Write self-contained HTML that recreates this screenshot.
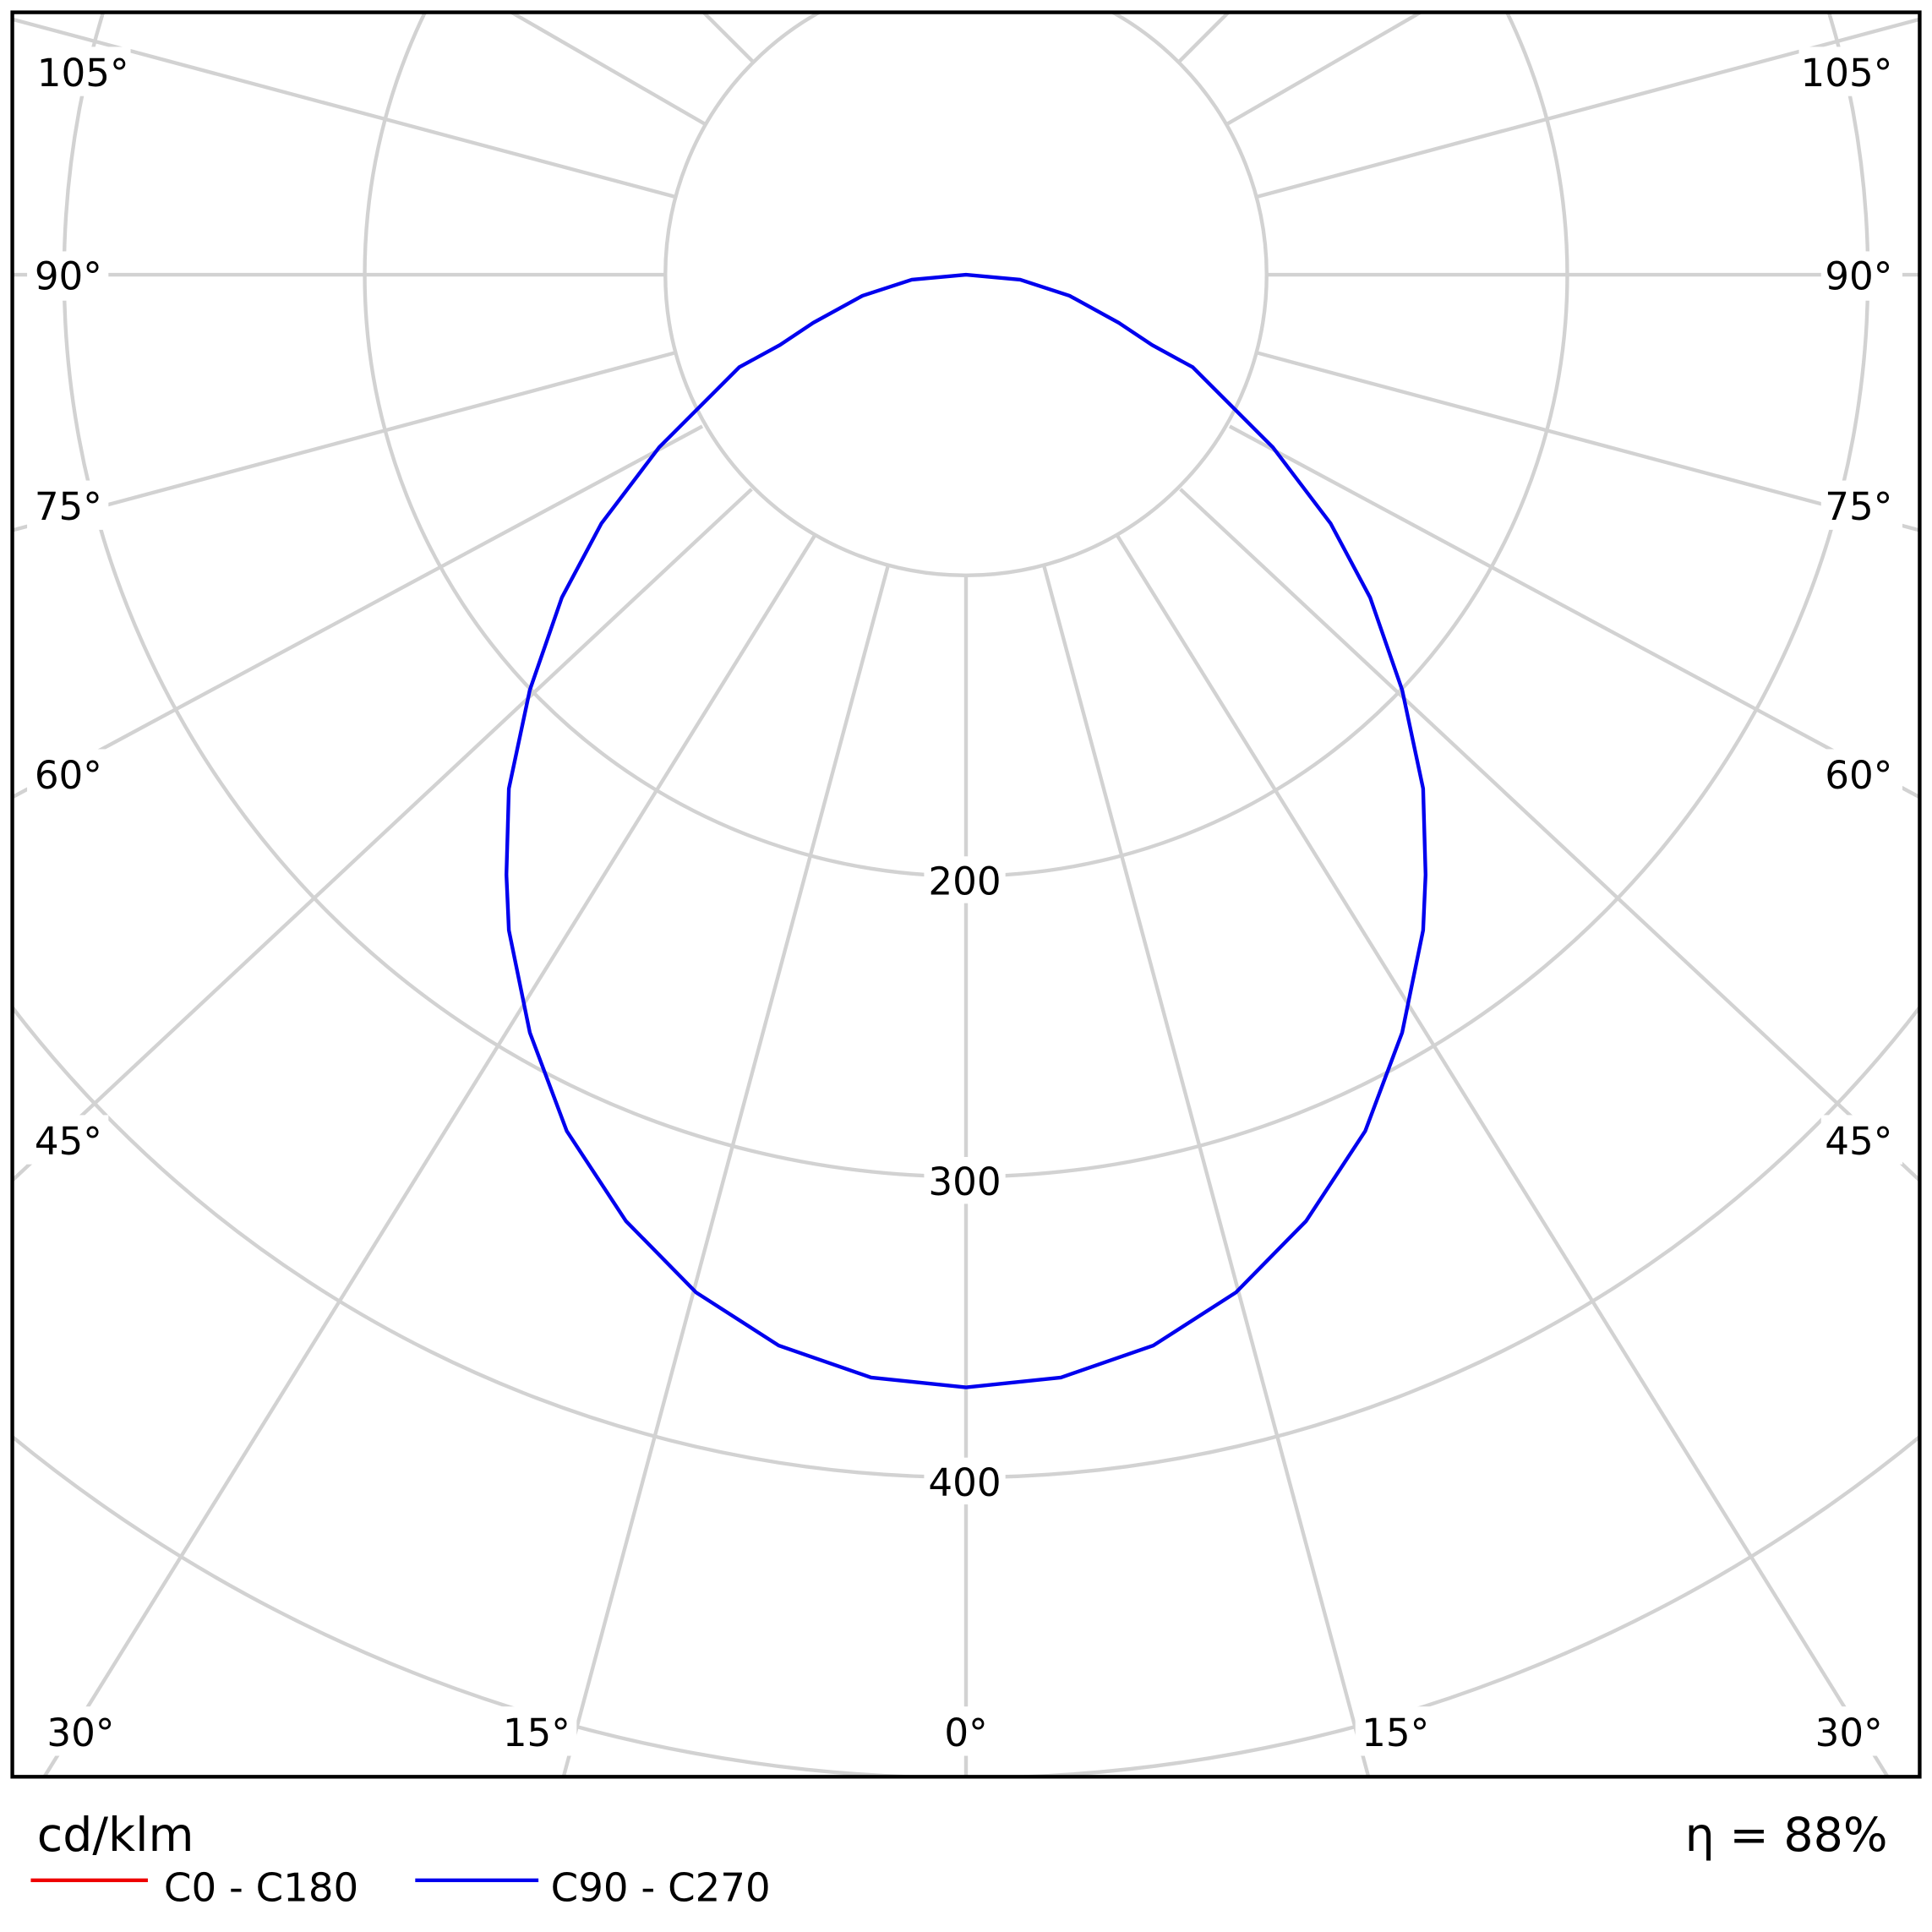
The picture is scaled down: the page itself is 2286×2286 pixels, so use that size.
<!DOCTYPE html>
<html><head><style>html,body{margin:0;padding:0;background:#fff;overflow:hidden}svg{display:block}</style></head>
<body>
<svg width="2286" height="2286" viewBox="0 0 1568 1568" xmlns="http://www.w3.org/2000/svg" font-family="'DejaVu Sans','Liberation Sans',sans-serif">
<defs><clipPath id="c"><rect x="10" y="10" width="1548" height="1432"/></clipPath></defs>
<rect width="1568" height="1568" fill="#fff"/>
<g clip-path="url(#c)" stroke="#d2d2d2" stroke-width="3" fill="none">
<circle cx="784" cy="223" r="244"/>
<circle cx="784" cy="223" r="488"/>
<circle cx="784" cy="223" r="732"/>
<circle cx="784" cy="223" r="976"/>
<circle cx="784" cy="223" r="1220"/>
<circle cx="784" cy="223" r="1464"/>
<line x1="784" y1="467" x2="784" y2="2000"/>
<g transform="rotate(15 784 223)"><line x1="784" y1="467" x2="784" y2="2000"/></g>
<g transform="rotate(-15 784 223)"><line x1="784" y1="467" x2="784" y2="2000"/></g>
<line x1="661" y1="435" x2="36" y2="1442"/><line x1="907" y1="435" x2="1532" y2="1442"/>
<line x1="610" y1="397" x2="10" y2="958"/><line x1="958" y1="397" x2="1558" y2="958"/>
<line x1="570" y1="346" x2="10" y2="647"/><line x1="998" y1="346" x2="1558" y2="647"/>
<g transform="rotate(75 784 223)"><line x1="784" y1="467" x2="784" y2="2000"/></g>
<g transform="rotate(90 784 223)"><line x1="784" y1="467" x2="784" y2="2000"/></g>
<g transform="rotate(105 784 223)"><line x1="784" y1="467" x2="784" y2="2000"/></g>
<g transform="rotate(120 784 223)"><line x1="784" y1="467" x2="784" y2="2000"/></g>
<g transform="rotate(135 784 223)"><line x1="784" y1="467" x2="784" y2="2000"/></g>
<g transform="rotate(150 784 223)"><line x1="784" y1="467" x2="784" y2="2000"/></g>
<g transform="rotate(165 784 223)"><line x1="784" y1="467" x2="784" y2="2000"/></g>
<g transform="rotate(-75 784 223)"><line x1="784" y1="467" x2="784" y2="2000"/></g>
<g transform="rotate(-90 784 223)"><line x1="784" y1="467" x2="784" y2="2000"/></g>
<g transform="rotate(-105 784 223)"><line x1="784" y1="467" x2="784" y2="2000"/></g>
<g transform="rotate(-120 784 223)"><line x1="784" y1="467" x2="784" y2="2000"/></g>
<g transform="rotate(-135 784 223)"><line x1="784" y1="467" x2="784" y2="2000"/></g>
<g transform="rotate(-150 784 223)"><line x1="784" y1="467" x2="784" y2="2000"/></g>
<g transform="rotate(-165 784 223)"><line x1="784" y1="467" x2="784" y2="2000"/></g>
</g>
<g font-size="31" fill="#000">
<g fill="#fff"><rect x="750" y="695" width="66" height="38"/><rect x="750" y="939" width="66" height="38"/><rect x="750" y="1183" width="66" height="38"/>
<rect x="22" y="38" width="84" height="40"/><rect x="1460" y="38" width="84" height="40"/>
<rect x="22" y="204" width="66" height="40"/><rect x="1478" y="204" width="66" height="40"/>
<rect x="22" y="390" width="66" height="40"/><rect x="1478" y="390" width="66" height="40"/>
<rect x="22" y="608" width="66" height="40"/><rect x="1478" y="608" width="66" height="40"/>
<rect x="22" y="905" width="66" height="40"/><rect x="1478" y="905" width="66" height="40"/>
<rect x="32" y="1385" width="66" height="40"/><rect x="1468" y="1385" width="66" height="40"/>
<rect x="402" y="1385" width="66" height="40"/><rect x="1100" y="1385" width="66" height="40"/>
<rect x="760" y="1385" width="48" height="40"/></g>
<text x="783" y="726" text-anchor="middle">200</text>
<text x="783" y="970" text-anchor="middle">300</text>
<text x="783" y="1214" text-anchor="middle">400</text>
<text x="30" y="70">105°</text><text x="1536" y="70" text-anchor="end">105°</text>
<text x="28" y="235">90°</text><text x="1536" y="235" text-anchor="end">90°</text>
<text x="28" y="422">75°</text><text x="1536" y="422" text-anchor="end">75°</text>
<text x="28" y="640">60°</text><text x="1536" y="640" text-anchor="end">60°</text>
<text x="28" y="937">45°</text><text x="1536" y="937" text-anchor="end">45°</text>
<text x="38" y="1417">30°</text><text x="1528" y="1417" text-anchor="end">30°</text>
<text x="408" y="1417">15°</text><text x="1160" y="1417" text-anchor="end">15°</text>
<text x="784" y="1417" text-anchor="middle">0°</text>
</g>
<path fill="none" stroke="#0000ee" stroke-width="3" stroke-linejoin="round" d="M784,1126 L861,1118 L936,1092 L1003,1049 L1060,991 L1108,918 L1138,838 L1155,755 L1157,710 L1155,640 L1138,560 L1112,485 L1080,425 L1033,363 L992,322 L968,298 L935,280 L908,262 L868,240 L828,227 L784,223 L740,227 L700,240 L660,262 L633,280 L600,298 L576,322 L535,363 L488,425 L456,485 L430,560 L413,640 L411,710 L413,755 L430,838 L460,918 L508,991 L565,1049 L632,1092 L707,1118 Z"/>
<rect x="10" y="10" width="1548" height="1432" fill="none" stroke="#000" stroke-width="3"/>
<text x="30" y="1502" font-size="38">cd/klm</text>
<text x="1532" y="1502" font-size="38" text-anchor="end">η = 88%</text>
<line x1="25" y1="1526" x2="120" y2="1526" stroke="#ee0000" stroke-width="3"/>
<text x="133" y="1543" font-size="32">C0 - C180</text>
<line x1="337" y1="1526" x2="437" y2="1526" stroke="#0000ee" stroke-width="3"/>
<text x="447" y="1543" font-size="32">C90 - C270</text>
</svg>
</body></html>
